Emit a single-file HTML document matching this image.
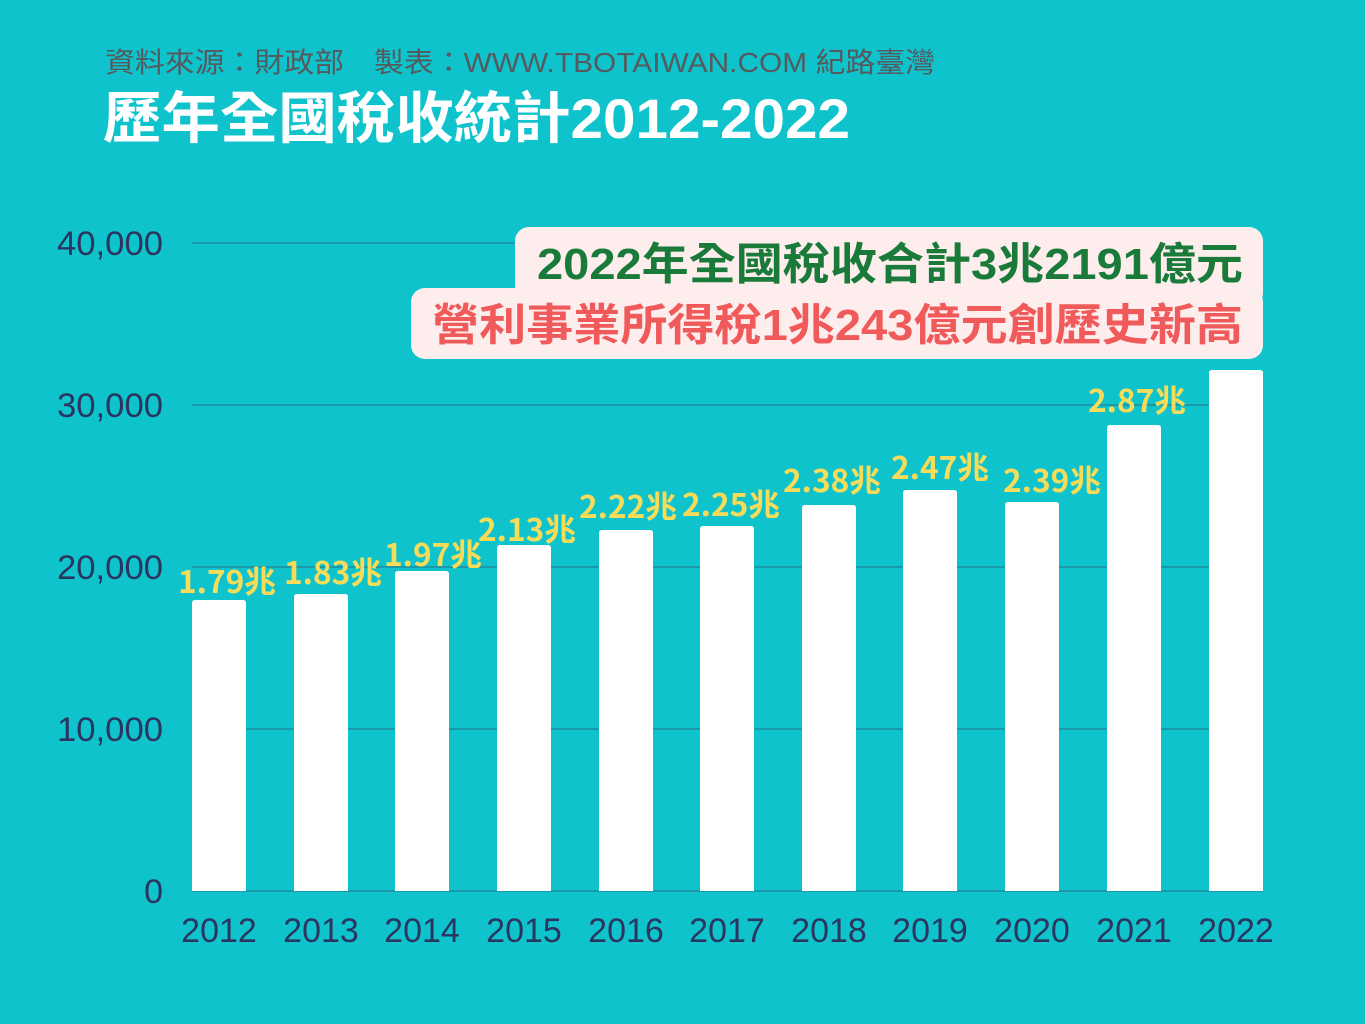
<!DOCTYPE html>
<html><head><meta charset="utf-8"><style>
html,body{margin:0;padding:0;background:#0fc3cc;}
svg{display:block}
</style></head><body>
<svg width="1365" height="1024" viewBox="0 0 1365 1024" xmlns="http://www.w3.org/2000/svg">
<rect width="1365" height="1024" fill="#0fc3cc"/>
<text x="105" y="72" textLength="830" lengthAdjust="spacingAndGlyphs" font-family="'Liberation Sans','Noto Sans CJK TC',sans-serif" font-size="28" fill="#555a5e">資料來源：財政部　製表：WWW.TBOTAIWAN.COM 紀路臺灣</text>
<text x="103" y="138" textLength="747" lengthAdjust="spacingAndGlyphs" font-family="'Liberation Sans','Noto Sans CJK TC',sans-serif" font-weight="bold" font-size="56" fill="#ffffff">歷年全國稅收統計2012-2022</text>
<g stroke="#1a9aa8" stroke-width="2">
<line x1="192" y1="243" x2="1263" y2="243"/>
<line x1="192" y1="405" x2="1263" y2="405"/>
<line x1="192" y1="567" x2="1263" y2="567"/>
<line x1="192" y1="729" x2="1263" y2="729"/>
<line x1="192" y1="891" x2="1263" y2="891"/>
</g>
<g font-family="'Liberation Sans',sans-serif" font-size="34" fill="#2a3560" text-anchor="end">
<text x="163" y="255" textLength="106" lengthAdjust="spacingAndGlyphs">40,000</text>
<text x="163" y="417" textLength="106" lengthAdjust="spacingAndGlyphs">30,000</text>
<text x="163" y="579" textLength="106" lengthAdjust="spacingAndGlyphs">20,000</text>
<text x="163" y="741" textLength="106" lengthAdjust="spacingAndGlyphs">10,000</text>
<text x="163" y="903">0</text>
</g>
<g fill="#ffffff">
<path d="M192,891V603q0-3 3-3h48q3,0 3,3V891z"/>
<path d="M294,891V597q0-3 3-3h48q3,0 3,3V891z"/>
<path d="M395,891V574q0-3 3-3h48q3,0 3,3V891z"/>
<path d="M497,891V548q0-3 3-3h48q3,0 3,3V891z"/>
<path d="M599,891V533q0-3 3-3h48q3,0 3,3V891z"/>
<path d="M700,891V529q0-3 3-3h48q3,0 3,3V891z"/>
<path d="M802,891V508q0-3 3-3h48q3,0 3,3V891z"/>
<path d="M903,891V493q0-3 3-3h48q3,0 3,3V891z"/>
<path d="M1005,891V505q0-3 3-3h48q3,0 3,3V891z"/>
<path d="M1107,891V428q0-3 3-3h48q3,0 3,3V891z"/>
<path d="M1209,891V373q0-3 3-3h48q3,0 3,3V891z"/>
</g>
<g font-family="'Liberation Sans',sans-serif" font-size="34" fill="#2a3560" text-anchor="middle">
<text x="219" y="942">2012</text><text x="321" y="942">2013</text><text x="422" y="942">2014</text>
<text x="524" y="942">2015</text><text x="626" y="942">2016</text><text x="727" y="942">2017</text>
<text x="829" y="942">2018</text><text x="930" y="942">2019</text><text x="1032" y="942">2020</text>
<text x="1134" y="942">2021</text><text x="1236" y="942">2022</text>
</g>
<g font-family="'Noto Sans CJK TC',sans-serif" font-weight="bold" font-size="31" fill="#f7dc5a" text-anchor="middle">
<text x="227" y="593" textLength="98" lengthAdjust="spacingAndGlyphs">1.79兆</text>
<text x="333" y="584" textLength="98" lengthAdjust="spacingAndGlyphs">1.83兆</text>
<text x="433" y="566" textLength="98" lengthAdjust="spacingAndGlyphs">1.97兆</text>
<text x="527" y="541" textLength="98" lengthAdjust="spacingAndGlyphs">2.13兆</text>
<text x="628" y="518" textLength="98" lengthAdjust="spacingAndGlyphs">2.22兆</text>
<text x="731" y="516" textLength="98" lengthAdjust="spacingAndGlyphs">2.25兆</text>
<text x="832" y="492" textLength="98" lengthAdjust="spacingAndGlyphs">2.38兆</text>
<text x="940" y="479" textLength="98" lengthAdjust="spacingAndGlyphs">2.47兆</text>
<text x="1052" y="492" textLength="98" lengthAdjust="spacingAndGlyphs">2.39兆</text>
<text x="1137" y="412" textLength="98" lengthAdjust="spacingAndGlyphs">2.87兆</text>
</g>
<g fill="#fdeeed">
<rect x="515" y="227" width="748" height="80" rx="14"/>
<rect x="411" y="288" width="852" height="71" rx="14"/>
</g>
<text x="537" y="279" textLength="706" lengthAdjust="spacingAndGlyphs" font-family="'Liberation Sans','Noto Sans CJK TC',sans-serif" font-weight="bold" font-size="44" fill="#1a7a3a">2022年全國稅收合計3兆2191億元</text>
<text x="432" y="340" textLength="811" lengthAdjust="spacingAndGlyphs" font-family="'Liberation Sans','Noto Sans CJK TC',sans-serif" font-weight="bold" font-size="44" fill="#f05a5a">營利事業所得稅1兆243億元創歷史新高</text>
</svg>
</body></html>
